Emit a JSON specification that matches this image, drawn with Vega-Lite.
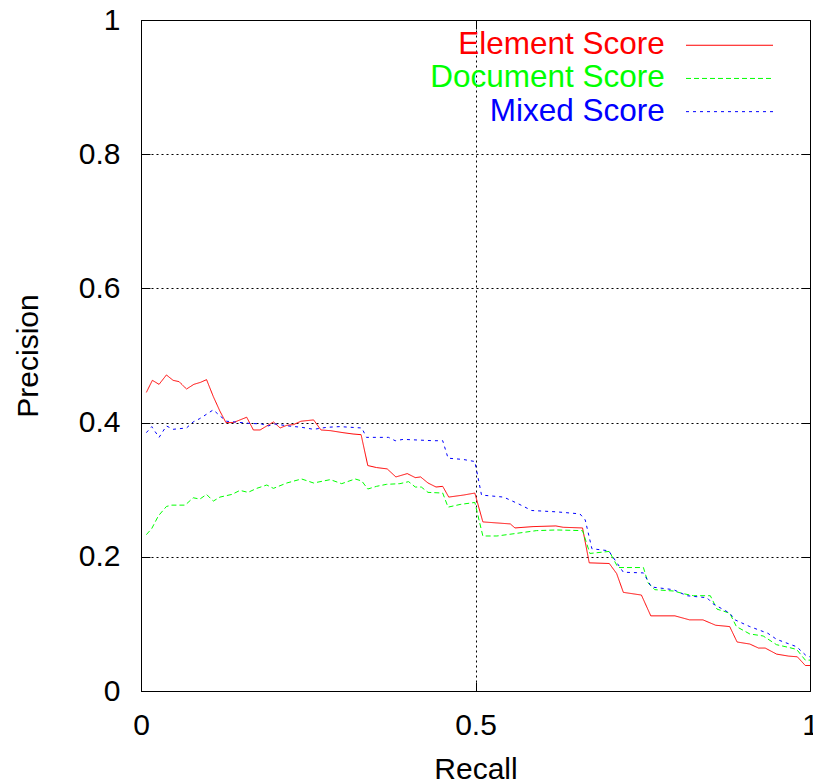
{
  "$schema": "https://vega.github.io/schema/vega-lite/v6.json",
  "width": 669,
  "height": 671,
  "autosize": "none",
  "padding": {"left": 141, "top": 20, "right": 3, "bottom": 93},
  "background": "white",
  "config": {
    "view": {"stroke": "black", "strokeWidth": 1},
    "font": "Liberation Sans",
    "axis": {
      "labelFont": "Liberation Sans", "labelFontSize": 30, "labelColor": "black",
      "titleFont": "Liberation Sans", "titleFontSize": 30, "titleFontWeight": "normal", "titleColor": "black",
      "domain": false, "gridColor": "black", "gridDash": [2, 3], "gridWidth": 1, "gridOpacity": 1,
      "tickColor": "black", "tickSize": -9, "tickWidth": 1
    }
  },
  "data": {"values": [
    {"series": "Element Score", "recall": 0.008, "precision": 0.445},
    {"series": "Element Score", "recall": 0.017, "precision": 0.463},
    {"series": "Element Score", "recall": 0.027, "precision": 0.457},
    {"series": "Element Score", "recall": 0.038, "precision": 0.471},
    {"series": "Element Score", "recall": 0.048, "precision": 0.463},
    {"series": "Element Score", "recall": 0.057, "precision": 0.461},
    {"series": "Element Score", "recall": 0.068, "precision": 0.450},
    {"series": "Element Score", "recall": 0.079, "precision": 0.457},
    {"series": "Element Score", "recall": 0.089, "precision": 0.460},
    {"series": "Element Score", "recall": 0.098, "precision": 0.464},
    {"series": "Element Score", "recall": 0.108, "precision": 0.439},
    {"series": "Element Score", "recall": 0.118, "precision": 0.417},
    {"series": "Element Score", "recall": 0.127, "precision": 0.400},
    {"series": "Element Score", "recall": 0.138, "precision": 0.400},
    {"series": "Element Score", "recall": 0.148, "precision": 0.404},
    {"series": "Element Score", "recall": 0.158, "precision": 0.408},
    {"series": "Element Score", "recall": 0.168, "precision": 0.389},
    {"series": "Element Score", "recall": 0.178, "precision": 0.389},
    {"series": "Element Score", "recall": 0.188, "precision": 0.395},
    {"series": "Element Score", "recall": 0.198, "precision": 0.401},
    {"series": "Element Score", "recall": 0.208, "precision": 0.392},
    {"series": "Element Score", "recall": 0.218, "precision": 0.396},
    {"series": "Element Score", "recall": 0.228, "precision": 0.397},
    {"series": "Element Score", "recall": 0.239, "precision": 0.402},
    {"series": "Element Score", "recall": 0.258, "precision": 0.404},
    {"series": "Element Score", "recall": 0.269, "precision": 0.389},
    {"series": "Element Score", "recall": 0.283, "precision": 0.388},
    {"series": "Element Score", "recall": 0.302, "precision": 0.385},
    {"series": "Element Score", "recall": 0.317, "precision": 0.383},
    {"series": "Element Score", "recall": 0.329, "precision": 0.382},
    {"series": "Element Score", "recall": 0.339, "precision": 0.336},
    {"series": "Element Score", "recall": 0.352, "precision": 0.333},
    {"series": "Element Score", "recall": 0.368, "precision": 0.331},
    {"series": "Element Score", "recall": 0.381, "precision": 0.319},
    {"series": "Element Score", "recall": 0.398, "precision": 0.324},
    {"series": "Element Score", "recall": 0.410, "precision": 0.318},
    {"series": "Element Score", "recall": 0.418, "precision": 0.319},
    {"series": "Element Score", "recall": 0.429, "precision": 0.310},
    {"series": "Element Score", "recall": 0.441, "precision": 0.304},
    {"series": "Element Score", "recall": 0.451, "precision": 0.305},
    {"series": "Element Score", "recall": 0.460, "precision": 0.289},
    {"series": "Element Score", "recall": 0.482, "precision": 0.292},
    {"series": "Element Score", "recall": 0.499, "precision": 0.295},
    {"series": "Element Score", "recall": 0.511, "precision": 0.252},
    {"series": "Element Score", "recall": 0.552, "precision": 0.249},
    {"series": "Element Score", "recall": 0.559, "precision": 0.243},
    {"series": "Element Score", "recall": 0.586, "precision": 0.245},
    {"series": "Element Score", "recall": 0.620, "precision": 0.246},
    {"series": "Element Score", "recall": 0.631, "precision": 0.244},
    {"series": "Element Score", "recall": 0.660, "precision": 0.243},
    {"series": "Element Score", "recall": 0.670, "precision": 0.191},
    {"series": "Element Score", "recall": 0.700, "precision": 0.190},
    {"series": "Element Score", "recall": 0.711, "precision": 0.175},
    {"series": "Element Score", "recall": 0.721, "precision": 0.147},
    {"series": "Element Score", "recall": 0.748, "precision": 0.143},
    {"series": "Element Score", "recall": 0.762, "precision": 0.112},
    {"series": "Element Score", "recall": 0.798, "precision": 0.112},
    {"series": "Element Score", "recall": 0.820, "precision": 0.106},
    {"series": "Element Score", "recall": 0.840, "precision": 0.106},
    {"series": "Element Score", "recall": 0.859, "precision": 0.098},
    {"series": "Element Score", "recall": 0.880, "precision": 0.096},
    {"series": "Element Score", "recall": 0.891, "precision": 0.073},
    {"series": "Element Score", "recall": 0.910, "precision": 0.070},
    {"series": "Element Score", "recall": 0.923, "precision": 0.064},
    {"series": "Element Score", "recall": 0.933, "precision": 0.064},
    {"series": "Element Score", "recall": 0.950, "precision": 0.055},
    {"series": "Element Score", "recall": 0.968, "precision": 0.052},
    {"series": "Element Score", "recall": 0.981, "precision": 0.051},
    {"series": "Element Score", "recall": 0.993, "precision": 0.038},
    {"series": "Element Score", "recall": 1.0, "precision": 0.038},
    {"series": "Document Score", "recall": 0.008, "precision": 0.233},
    {"series": "Document Score", "recall": 0.016, "precision": 0.242},
    {"series": "Document Score", "recall": 0.026, "precision": 0.261},
    {"series": "Document Score", "recall": 0.038, "precision": 0.275},
    {"series": "Document Score", "recall": 0.046, "precision": 0.277},
    {"series": "Document Score", "recall": 0.066, "precision": 0.277},
    {"series": "Document Score", "recall": 0.078, "precision": 0.288},
    {"series": "Document Score", "recall": 0.088, "precision": 0.286},
    {"series": "Document Score", "recall": 0.098, "precision": 0.293},
    {"series": "Document Score", "recall": 0.108, "precision": 0.283},
    {"series": "Document Score", "recall": 0.118, "precision": 0.289},
    {"series": "Document Score", "recall": 0.136, "precision": 0.293},
    {"series": "Document Score", "recall": 0.148, "precision": 0.299},
    {"series": "Document Score", "recall": 0.160, "precision": 0.296},
    {"series": "Document Score", "recall": 0.173, "precision": 0.302},
    {"series": "Document Score", "recall": 0.188, "precision": 0.307},
    {"series": "Document Score", "recall": 0.198, "precision": 0.302},
    {"series": "Document Score", "recall": 0.218, "precision": 0.310},
    {"series": "Document Score", "recall": 0.240, "precision": 0.316},
    {"series": "Document Score", "recall": 0.258, "precision": 0.310},
    {"series": "Document Score", "recall": 0.283, "precision": 0.315},
    {"series": "Document Score", "recall": 0.300, "precision": 0.309},
    {"series": "Document Score", "recall": 0.320, "precision": 0.316},
    {"series": "Document Score", "recall": 0.330, "precision": 0.313},
    {"series": "Document Score", "recall": 0.339, "precision": 0.301},
    {"series": "Document Score", "recall": 0.352, "precision": 0.305},
    {"series": "Document Score", "recall": 0.367, "precision": 0.308},
    {"series": "Document Score", "recall": 0.387, "precision": 0.309},
    {"series": "Document Score", "recall": 0.400, "precision": 0.312},
    {"series": "Document Score", "recall": 0.410, "precision": 0.304},
    {"series": "Document Score", "recall": 0.419, "precision": 0.304},
    {"series": "Document Score", "recall": 0.429, "precision": 0.296},
    {"series": "Document Score", "recall": 0.451, "precision": 0.295},
    {"series": "Document Score", "recall": 0.459, "precision": 0.274},
    {"series": "Document Score", "recall": 0.477, "precision": 0.278},
    {"series": "Document Score", "recall": 0.499, "precision": 0.281},
    {"series": "Document Score", "recall": 0.511, "precision": 0.231},
    {"series": "Document Score", "recall": 0.532, "precision": 0.231},
    {"series": "Document Score", "recall": 0.562, "precision": 0.235},
    {"series": "Document Score", "recall": 0.591, "precision": 0.239},
    {"series": "Document Score", "recall": 0.621, "precision": 0.240},
    {"series": "Document Score", "recall": 0.660, "precision": 0.239},
    {"series": "Document Score", "recall": 0.671, "precision": 0.205},
    {"series": "Document Score", "recall": 0.700, "precision": 0.208},
    {"series": "Document Score", "recall": 0.713, "precision": 0.184},
    {"series": "Document Score", "recall": 0.751, "precision": 0.184},
    {"series": "Document Score", "recall": 0.758, "precision": 0.161},
    {"series": "Document Score", "recall": 0.768, "precision": 0.151},
    {"series": "Document Score", "recall": 0.796, "precision": 0.149},
    {"series": "Document Score", "recall": 0.811, "precision": 0.145},
    {"series": "Document Score", "recall": 0.826, "precision": 0.142},
    {"series": "Document Score", "recall": 0.851, "precision": 0.142},
    {"series": "Document Score", "recall": 0.861, "precision": 0.122},
    {"series": "Document Score", "recall": 0.880, "precision": 0.116},
    {"series": "Document Score", "recall": 0.890, "precision": 0.096},
    {"series": "Document Score", "recall": 0.910, "precision": 0.085},
    {"series": "Document Score", "recall": 0.930, "precision": 0.082},
    {"series": "Document Score", "recall": 0.950, "precision": 0.069},
    {"series": "Document Score", "recall": 0.968, "precision": 0.065},
    {"series": "Document Score", "recall": 0.980, "precision": 0.062},
    {"series": "Document Score", "recall": 0.993, "precision": 0.046},
    {"series": "Document Score", "recall": 1.0, "precision": 0.046},
    {"series": "Mixed Score", "recall": 0.008, "precision": 0.385},
    {"series": "Mixed Score", "recall": 0.016, "precision": 0.394},
    {"series": "Mixed Score", "recall": 0.027, "precision": 0.378},
    {"series": "Mixed Score", "recall": 0.038, "precision": 0.395},
    {"series": "Mixed Score", "recall": 0.048, "precision": 0.390},
    {"series": "Mixed Score", "recall": 0.068, "precision": 0.392},
    {"series": "Mixed Score", "recall": 0.078, "precision": 0.401},
    {"series": "Mixed Score", "recall": 0.088, "precision": 0.406},
    {"series": "Mixed Score", "recall": 0.108, "precision": 0.419},
    {"series": "Mixed Score", "recall": 0.118, "precision": 0.410},
    {"series": "Mixed Score", "recall": 0.128, "precision": 0.402},
    {"series": "Mixed Score", "recall": 0.140, "precision": 0.401},
    {"series": "Mixed Score", "recall": 0.160, "precision": 0.399},
    {"series": "Mixed Score", "recall": 0.180, "precision": 0.398},
    {"series": "Mixed Score", "recall": 0.190, "precision": 0.395},
    {"series": "Mixed Score", "recall": 0.200, "precision": 0.398},
    {"series": "Mixed Score", "recall": 0.220, "precision": 0.395},
    {"series": "Mixed Score", "recall": 0.240, "precision": 0.393},
    {"series": "Mixed Score", "recall": 0.258, "precision": 0.390},
    {"series": "Mixed Score", "recall": 0.278, "precision": 0.393},
    {"series": "Mixed Score", "recall": 0.297, "precision": 0.394},
    {"series": "Mixed Score", "recall": 0.330, "precision": 0.392},
    {"series": "Mixed Score", "recall": 0.337, "precision": 0.378},
    {"series": "Mixed Score", "recall": 0.370, "precision": 0.378},
    {"series": "Mixed Score", "recall": 0.380, "precision": 0.373},
    {"series": "Mixed Score", "recall": 0.392, "precision": 0.375},
    {"series": "Mixed Score", "recall": 0.437, "precision": 0.373},
    {"series": "Mixed Score", "recall": 0.451, "precision": 0.373},
    {"series": "Mixed Score", "recall": 0.459, "precision": 0.347},
    {"series": "Mixed Score", "recall": 0.482, "precision": 0.345},
    {"series": "Mixed Score", "recall": 0.499, "precision": 0.342},
    {"series": "Mixed Score", "recall": 0.509, "precision": 0.292},
    {"series": "Mixed Score", "recall": 0.542, "precision": 0.289},
    {"series": "Mixed Score", "recall": 0.564, "precision": 0.279},
    {"series": "Mixed Score", "recall": 0.584, "precision": 0.269},
    {"series": "Mixed Score", "recall": 0.621, "precision": 0.267},
    {"series": "Mixed Score", "recall": 0.656, "precision": 0.264},
    {"series": "Mixed Score", "recall": 0.664, "precision": 0.255},
    {"series": "Mixed Score", "recall": 0.674, "precision": 0.212},
    {"series": "Mixed Score", "recall": 0.699, "precision": 0.209},
    {"series": "Mixed Score", "recall": 0.721, "precision": 0.177},
    {"series": "Mixed Score", "recall": 0.751, "precision": 0.176},
    {"series": "Mixed Score", "recall": 0.763, "precision": 0.155},
    {"series": "Mixed Score", "recall": 0.796, "precision": 0.151},
    {"series": "Mixed Score", "recall": 0.816, "precision": 0.142},
    {"series": "Mixed Score", "recall": 0.846, "precision": 0.139},
    {"series": "Mixed Score", "recall": 0.855, "precision": 0.130},
    {"series": "Mixed Score", "recall": 0.880, "precision": 0.116},
    {"series": "Mixed Score", "recall": 0.888, "precision": 0.106},
    {"series": "Mixed Score", "recall": 0.910, "precision": 0.096},
    {"series": "Mixed Score", "recall": 0.937, "precision": 0.086},
    {"series": "Mixed Score", "recall": 0.950, "precision": 0.077},
    {"series": "Mixed Score", "recall": 0.980, "precision": 0.066},
    {"series": "Mixed Score", "recall": 0.995, "precision": 0.052},
    {"series": "Mixed Score", "recall": 1.0, "precision": 0.051}
  ]},
  "layer": [
    {
      "mark": {"type": "point", "opacity": 0},
      "encoding": {
        "x": {
          "field": "recall", "type": "quantitative",
          "scale": {"domain": [0, 1], "nice": false, "zero": false},
          "axis": {"orient": "top", "values": [0, 0.5, 1], "labels": false, "grid": false, "title": null}
        },
        "y": {
          "field": "precision", "type": "quantitative",
          "scale": {"domain": [0, 1], "nice": false},
          "axis": {"orient": "right", "values": [0, 0.2, 0.4, 0.6, 0.8, 1], "labels": false, "grid": false, "title": null}
        }
      }
    },
    {
      "mark": {"type": "line", "strokeWidth": 1},
      "encoding": {
        "x": {
          "field": "recall", "type": "quantitative",
          "scale": {"domain": [0, 1], "nice": false, "zero": false},
          "axis": {"orient": "bottom", "grid": true, "values": [0, 0.5, 1], "labelExpr": "'' + datum.value", "labelPadding": 28, "labelFlush": false,
                   "title": "Recall", "titleBaseline": "alphabetic", "titleY": 87}
        },
        "y": {
          "field": "precision", "type": "quantitative",
          "scale": {"domain": [0, 1], "nice": false},
          "axis": {"orient": "left", "grid": true, "values": [0, 0.2, 0.4, 0.6, 0.8, 1], "labelExpr": "'' + datum.value", "labelPadding": 30, "labelFlush": false,
                   "title": "Precision", "titleAngle": -90, "titleBaseline": "alphabetic", "titleX": -104, "titleY": 335.5, "titleAlign": "center"}
        },
        "color": {
          "field": "series", "type": "nominal",
          "scale": {"domain": ["Element Score", "Document Score", "Mixed Score"], "range": ["#ff0000", "#00ff00", "#0000ff"]},
          "legend": {
            "orient": "none", "legendX": 545, "legendY": 9.5, "title": null,
            "symbolType": "M-4.35,0H4.35", "symbolSize": 400, "symbolStrokeWidth": 1, "symbolOffset": 27.75,
            "rowPadding": 0.2, "padding": 0,
            "labelFont": "Liberation Sans", "labelFontSize": 31.5, "labelAlign": "right", "labelOffset": -80.5, "labelLimit": 600,
            "encode": {"labels": {"update": {"fill": {"scale": "color", "field": "value"}}}}
          }
        },
        "strokeDash": {
          "field": "series", "type": "nominal",
          "scale": {"domain": ["Element Score", "Document Score", "Mixed Score"], "range": [[1, 0], [5, 3], [3, 4]]},
          "legend": {
            "orient": "none", "legendX": 545, "legendY": 9.5, "title": null,
            "symbolType": "M-4.35,0H4.35", "symbolSize": 400, "symbolStrokeWidth": 1, "symbolOffset": 27.75,
            "rowPadding": 0.2, "padding": 0,
            "labelFont": "Liberation Sans", "labelFontSize": 31.5, "labelAlign": "right", "labelOffset": -80.5, "labelLimit": 600,
            "encode": {"labels": {"update": {"fill": {"scale": "color", "field": "value"}}}}
          }
        }
      }
    }
  ],
  "resolve": {"axis": {"x": "independent", "y": "independent"}}
}
